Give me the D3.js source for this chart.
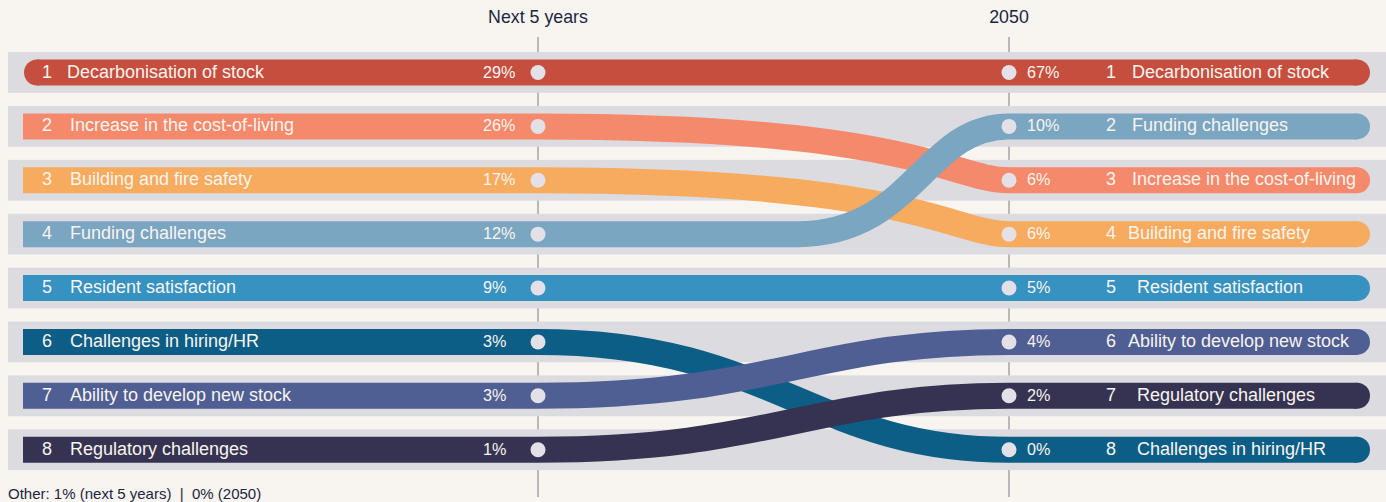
<!DOCTYPE html>
<html>
<head>
<meta charset="utf-8">
<script src="https://cdn.jsdelivr.net/npm/d3@7"></script>
<style>
  html, body { margin: 0; padding: 0; background: #f8f5f0; }
  svg { display: block; }
  text { font-family: "Liberation Sans", Arial, Helvetica, sans-serif; }
</style>
</head>
<body>
<svg id="chart" width="1386" height="502"></svg>
<script>
// Top housing-sector concerns: share of respondents, next 5 years vs 2050
const periods = ["Next 5 years", "2050"];
const issues = [
  "Decarbonisation of stock",
  "Increase in the cost-of-living",
  "Building and fire safety",
  "Funding challenges",
  "Resident satisfaction",
  "Challenges in hiring/HR",
  "Ability to develop new stock",
  "Regulatory challenges"
];
const shareNext5 = [29, 26, 17, 12, 9, 3, 3, 1];
const share2050  = [67, 6, 6, 10, 5, 0, 4, 2];
const rankNext5  = [1, 2, 3, 4, 5, 6, 7, 8];
const rank2050   = [1, 3, 4, 2, 5, 8, 6, 7];
const issueColors = ["#c54e3f", "#f5896c", "#f6ab5f", "#7ba6c2", "#3592c1", "#0d5e86", "#4f5e93", "#363352"];
const footnote = "Other: 1% (next 5 years)  |  0% (2050)";

const rows = issues.map((name, i) => ({
  name, color: issueColors[i],
  v0: shareNext5[i], v1: share2050[i],
  r0: rankNext5[i], r1: rank2050[i]
}));

const svg = d3.select("#chart");
const W = 1386, H = 502;

const x = d3.scalePoint().domain(periods).range([538, 1009]);
const y = d3.scaleLinear().domain([1, 8]).range([72.5, 449.7]);

const ribbonW = 26;
const leftEdge = 23, rightEdge = 1370;
const fmt = v => `${v}%`;
const labelSize = 18, valueSize = 16.2;

// how each ribbon bends between the two columns
const bendDefault = { start: 0, a: 0.5, b: 0.42 };
const bendStyle = {
  "Increase in the cost-of-living": { start: 0, a: 0.8, b: 0.12 },
  "Building and fire safety": { start: 0, a: 0.8, b: 0.12 },
  "Funding challenges": { start: 0.55, a: 0.55, b: 0.4 }
};
// small horizontal nudges of the right-hand labels
const rightNudge = { "Building and fire safety": -4, "Ability to develop new stock": -4,
  "Resident satisfaction": 5, "Regulatory challenges": 5, "Challenges in hiring/HR": 5 };

// background
svg.append("rect").attr("width", W).attr("height", H).attr("fill", "#f8f5f0");

// column guide lines
svg.selectAll("line.guide").data(periods).join("line")
  .attr("class", "guide")
  .attr("x1", d => x(d)).attr("x2", d => x(d))
  .attr("y1", 37).attr("y2", 497)
  .attr("stroke", "#7c7a82").attr("stroke-width", 1);

// column headers
svg.selectAll("text.head").data(periods).join("text")
  .attr("class", "head")
  .attr("x", d => x(d)).attr("y", 23)
  .attr("text-anchor", "middle")
  .attr("font-size", 17.8)
  .attr("fill", "#1d2542")
  .text(d => d);

// row bands
svg.selectAll("rect.band").data(d3.range(1, 9)).join("rect")
  .attr("class", "band")
  .attr("x", 8).attr("width", W - 8)
  .attr("y", r => y(r) - 20.4).attr("height", 40.8)
  .attr("fill", "#dcdbe0");

const x0 = x(periods[0]), x1 = x(periods[1]);

function ribbonPath(d, i) {
  const y0 = y(d.r0), y1 = y(d.r1);
  const p = d3.path();
  const startX = i === 0 ? leftEdge + 1 + ribbonW / 2 : leftEdge;
  p.moveTo(startX, y0);
  if (d.r0 !== d.r1) {
    const s = bendStyle[d.name] || bendDefault;
    const xs = x0 + s.start * (x1 - x0);
    const w = x1 - xs;
    p.lineTo(xs, y0);
    p.bezierCurveTo(xs + s.a * w, y0, x1 - s.b * w, y1, x1, y1);
  }
  p.lineTo(rightEdge - ribbonW / 2, y1);
  return p.toString();
}

const ribbons = svg.append("g").selectAll("g").data(rows).join("g");

ribbons.append("path")
  .attr("d", (d, i) => ribbonPath(d, i))
  .attr("fill", "none")
  .attr("stroke", d => d.color)
  .attr("stroke-width", ribbonW)
  .attr("stroke-linecap", "butt");

// rounded right ends
ribbons.append("circle")
  .attr("cx", rightEdge - ribbonW / 2)
  .attr("cy", d => y(d.r1))
  .attr("r", ribbonW / 2)
  .attr("fill", d => d.color);

// rounded left end of the leading row
ribbons.filter((d, i) => i === 0).append("circle")
  .attr("cx", leftEdge + 1 + ribbonW / 2)
  .attr("cy", d => y(d.r0))
  .attr("r", ribbonW / 2)
  .attr("fill", d => d.color);

// markers on each column
const dots = svg.append("g");
dots.selectAll("circle.d0").data(rows).join("circle")
  .attr("cx", x0).attr("cy", d => y(d.r0)).attr("r", 7.5).attr("fill", "#e3e1e7");
dots.selectAll("circle.d1").data(rows).join("circle")
  .attr("cx", x1).attr("cy", d => y(d.r1)).attr("r", 7.5).attr("fill", "#e3e1e7");

const labels = svg.append("g");
const lbl = "#f8f4ee";

// left side: rank, name, share
labels.selectAll("text.ln").data(rows).join("text")
  .attr("x", 42).attr("y", d => y(d.r0) + 5)
  .attr("font-size", labelSize).attr("fill", lbl)
  .text(d => d.r0);
labels.selectAll("text.lt").data(rows).join("text")
  .attr("x", (d, i) => i === 0 ? 67 : 70).attr("y", d => y(d.r0) + 5)
  .attr("font-size", labelSize).attr("fill", lbl)
  .text(d => d.name);
labels.selectAll("text.lv").data(rows).join("text")
  .attr("x", 483).attr("y", d => y(d.r0) + 5)
  .attr("font-size", valueSize).attr("fill", lbl)
  .text(d => fmt(d.v0));

// right side: share, rank, name
labels.selectAll("text.rv").data(rows).join("text")
  .attr("x", 1027).attr("y", d => y(d.r1) + 5)
  .attr("font-size", valueSize).attr("fill", lbl)
  .text(d => fmt(d.v1));
labels.selectAll("text.rn").data(rows).join("text")
  .attr("x", 1106).attr("y", d => y(d.r1) + 5)
  .attr("font-size", labelSize).attr("fill", lbl)
  .text(d => d.r1);
labels.selectAll("text.rt").data(rows).join("text")
  .attr("x", d => 1132 + (rightNudge[d.name] || 0)).attr("y", d => y(d.r1) + 5)
  .attr("font-size", labelSize).attr("fill", lbl)
  .text(d => d.name);

// footnote
svg.append("text")
  .attr("x", 8).attr("y", 498.5)
  .attr("font-size", 15)
  .attr("fill", "#1d2542")
  .attr("xml:space", "preserve")
  .style("white-space", "pre")
  .text(footnote);
</script>
</body>
</html>
